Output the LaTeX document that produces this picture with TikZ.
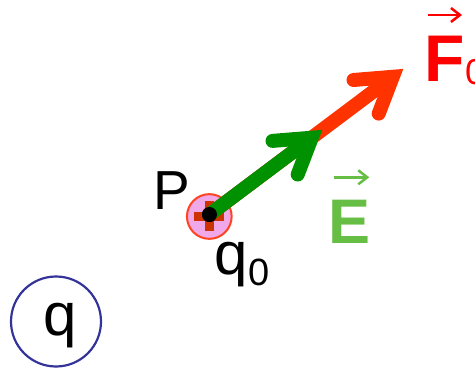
\documentclass[tikz,border=0pt]{standalone}
\usepackage{fontspec}
\setmainfont{Liberation Sans}
\usetikzlibrary{arrows.meta}
\definecolor{redc}{RGB}{255,51,0}
\definecolor{greenc}{RGB}{0,145,0}
\definecolor{Ecol}{RGB}{102,190,68}
\definecolor{Fcol}{RGB}{255,0,0}
\definecolor{qnavy}{RGB}{51,51,153}
\definecolor{pinkc}{RGB}{240,168,232}
\definecolor{pinkstroke}{RGB}{255,68,34}
\definecolor{crossc}{RGB}{204,51,0}
\begin{document}
\begin{tikzpicture}[x=1pt,y=-1pt,
  shaft/.style={line width=14pt},
  head/.style={line width=14pt,line cap=round,line join=miter},
  vecarrow/.style={line width=2.5pt,-{Straight Barb[length=9pt,width=14pt]}},
  lbl/.style={inner sep=0pt,anchor=base west}]
\useasboundingbox (0,0) rectangle (475,369);
% source charge q
\node[circle,draw=qnavy,line width=2.2pt,minimum size=90pt,inner sep=0pt] (q) at (56,321.5) {};
\node[anchor=base,inner sep=0pt,font=\fontsize{60pt}{60pt}\selectfont] (qlbl) at (59.7,335) {q};
% test charge q0
\node[circle,draw=pinkstroke,fill=pinkc,line width=2pt,minimum size=44.7pt,inner sep=0pt] (q0c) at (209.3,216.5) {};
\fill[crossc] (194.3,212) rectangle (224.3,221);
\fill[crossc] (205,201.5) rectangle (213.6,231.5);
\node[circle,fill=black,minimum size=15pt,inner sep=0pt] (P) at (209.5,214.5) {};
% arrow coordinates
\coordinate (Fv) at (392.8,76.8);
\coordinate (Fa) at (353.5,80.0);
\coordinate (Fb) at (378.7,113.6);
\coordinate (Gv) at (311.8,137.7);
\coordinate (Ga) at (272.5,140.9);
\coordinate (Gb) at (297.7,174.5);
% force arrow
\draw[shaft,redc] (P.center) -- (Fv);
\draw[head,redc] (Fa) -- (Fv) -- (Fb);
% field arrow
\draw[shaft,greenc] (P.center) -- (Gv);
\draw[head,greenc] (Ga) -- (Gv) -- (Gb);
\fill[black] (P.center) circle (7.5pt);
% labels
\node[lbl,font=\fontsize{55pt}{55pt}\selectfont] (Plbl) at (153,210) {P};
\node[lbl,font=\fontsize{60pt}{60pt}\selectfont] (q0) at (214.7,275) {q\raisebox{-10pt}{\fontsize{38pt}{38pt}\selectfont 0}};
\node[lbl,font=\bfseries\fontsize{63pt}{63pt}\selectfont,text=Ecol] (E) at (328.7,243.3) {E};
\coordinate (Ea) at (334,177.3);
\coordinate (Eb) at (369.3,177.3);
\draw[vecarrow,Ecol] (Ea) -- (Eb);
\node[lbl,font=\bfseries\fontsize{66pt}{66pt}\selectfont,text=Fcol] (F) at (424.5,81.7) {F};
\node[lbl,font=\fontsize{36pt}{36pt}\selectfont,text=Fcol] (F0) at (465,85) {0};
\coordinate (Fla) at (428,15);
\coordinate (Flb) at (462,15);
\draw[vecarrow,Fcol] (Fla) -- (Flb);
\end{tikzpicture}
\end{document}
